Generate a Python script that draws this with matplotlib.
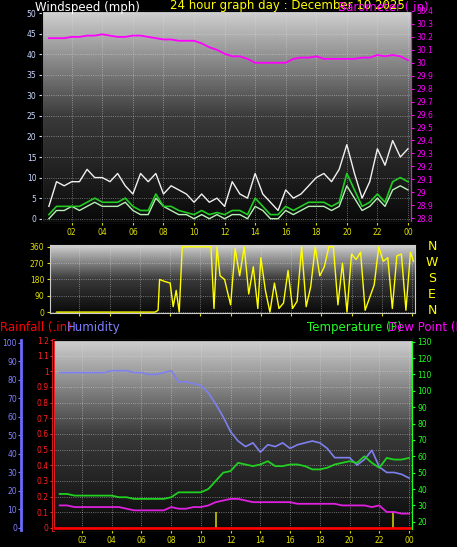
import numpy as np
import matplotlib
matplotlib.use("Agg")
import matplotlib.pyplot as plt
from matplotlib.colors import LinearSegmentedColormap

# ---------------- data ----------------
hours = [0.5*i for i in range(1, 49)]
gust = [3, 9, 8, 9, 9, 12, 10, 10, 9, 11, 8, 6, 11, 9, 11, 6, 8, 7, 6, 4, 6, 4, 5, 3,
        9, 6, 5, 11, 6, 4, 2, 7, 5, 6, 8, 10, 11, 9, 12, 18, 11, 5, 9, 17, 13, 19, 15, 17]
wind_avg = [1, 3, 3, 3, 3, 4, 5, 4, 4, 4, 5, 3, 2, 2, 6, 3, 3, 2, 1.5, 1, 2, 1, 1.5, 1,
            2, 2, 1, 5, 3, 1, 1, 3, 2, 3, 4, 4, 4, 3, 4, 11, 7, 3, 4, 6, 4, 9, 10, 9]
wind_speed = [0, 2, 2, 3, 2, 3, 4, 3, 3, 3, 4, 2, 1, 1, 5, 3, 2, 1, 1, 0, 1, 0, 1, 0,
              1, 1, 0, 3, 2, 0, 0, 2, 1, 2, 3, 3, 3, 2, 3, 8, 5, 2, 3, 5, 3, 7, 8, 7]
pressure = [30.19, 30.19, 30.19, 30.20, 30.20, 30.21, 30.21, 30.22, 30.21, 30.20, 30.20, 30.21,
            30.21, 30.20, 30.19, 30.18, 30.18, 30.17, 30.17, 30.17, 30.15, 30.12, 30.10, 30.07,
            30.05, 30.05, 30.03, 30.00, 30.00, 30.00, 30.00, 30.00, 30.03, 30.04, 30.04, 30.05,
            30.03, 30.03, 30.03, 30.03, 30.03, 30.04, 30.04, 30.06, 30.05, 30.06, 30.05, 30.02]
dir_hours = [0.5, 7.0, 7.2, 7.3, 7.6, 8.0, 8.2, 8.4, 8.6, 8.8, 10.7, 10.9, 11.1, 11.3, 11.6,
             12.0, 12.3, 12.6, 12.9, 13.2, 13.5, 13.8, 14.0, 14.3, 14.6, 14.9, 15.2, 15.5,
             15.8, 16.1, 16.4, 16.7, 17.0, 17.3, 17.6, 17.9, 18.2, 18.5, 18.8, 19.1, 19.4,
             19.7, 20.0, 20.3, 20.6, 20.9, 21.2, 21.5, 21.8, 22.1, 22.4, 22.7, 23.0, 23.3,
             23.6, 23.9, 24.1]
direction = [0, 0, 10, 180, 170, 160, 30, 120, 0, 360, 360, 20, 360, 200, 180,
             40, 350, 200, 360, 100, 250, 20, 300, 120, 0, 160, 20, 50,
             230, 20, 60, 360, 30, 140, 360, 200, 250, 360, 360, 40, 270,
             0, 320, 290, 330, 10, 80, 150, 360, 280, 300, 20, 310, 320,
             10, 330, 280]
humidity = [84, 84, 84, 84, 84, 84, 84, 85, 85, 85, 84, 84, 83, 83, 84, 85, 79, 79, 78, 77,
            73, 67, 60, 52, 47, 44, 46, 41, 45, 44, 46, 43, 45, 46, 47, 46, 43, 38, 38, 38,
            34, 37, 42, 33, 30, 30, 29, 27]
temperature = [37, 37, 36, 36, 36, 36, 36, 36, 35, 35, 34, 34, 34, 34, 34, 35, 38, 38, 38, 38,
               40, 45, 50, 51, 56, 55, 54, 55, 57, 54, 54, 55, 55, 54, 52, 52, 53, 55, 56, 57,
               56, 60, 56, 53, 59, 58, 58, 59]
dewpoint = [30, 30, 29, 29, 29, 29, 29, 29, 29, 28, 27, 27, 27, 27, 27, 29, 28, 28, 29, 29,
            30, 32, 33, 34, 34, 33, 32, 32, 32, 32, 32, 32, 31, 31, 31, 31, 31, 31, 30, 30,
            30, 30, 29, 30, 26, 26, 25, 25]
rain_hours = [11.0, 22.9]
rain_bars = [0.1, 0.1]
xtick_pos = [2, 4, 6, 8, 10, 12, 14, 16, 18, 20, 22, 24]
xtick_lab = ["02", "04", "06", "08", "10", "12", "14", "16", "18", "20", "22", "00"]

W, H = 457, 547
fig = plt.figure(figsize=(W/100, H/100), dpi=100, facecolor="black")
cmap = LinearSegmentedColormap.from_list("g", ["#0a0a0a", "#3a3a3a", "#cfcfcf"])

def mkax(l, t, r, b):
    ax = fig.add_axes([l/W, 1-b/H, (r-l)/W, (b-t)/H])
    ax.set_facecolor("black")
    grad = np.linspace(0, 1, 100).reshape(-1, 1)
    ax.imshow(grad, extent=[0, 1, 0, 1], transform=ax.transAxes, aspect="auto",
              cmap=cmap, origin="lower", zorder=0)
    ax.grid(True, color="#dddddd", linestyle=":", linewidth=0.6, alpha=0.6)
    for s in ax.spines.values():
        s.set_color("#cccccc")
    return ax

XL = (0.05, 24.2)

def style_x(ax, show=True):
    ax.set_xlim(*XL)
    ax.set_xticks(xtick_pos)
    if show:
        ax.set_xticklabels(xtick_lab)
    else:
        ax.set_xticklabels([])
    ax.tick_params(axis="x", colors="#e0e000", labelsize=5.5, length=2, pad=2)

# ---------------- top panel ----------------
ax1 = mkax(42, 11, 411, 222)
style_x(ax1)
ax1.set_ylim(-0.8, 50.5)
ax1.set_yticks(range(0, 51, 5))
ax1.tick_params(axis="y", colors="#c8d8ff", labelsize=5.5, length=2, pad=2)
ax1.plot(hours, gust, color="#f0f0f0", lw=1.0, zorder=3)
ax1.plot(hours, wind_speed, color="#b8f0b8", lw=1.0, zorder=3)
ax1.plot(hours, wind_avg, color="#22cc22", lw=1.2, zorder=4)
ax1b = ax1.twinx()
ax1b.set_ylim(28.77, 30.4)
ax1b.set_yticks(np.round(np.arange(28.8, 30.41, 0.1), 1))
ax1b.set_yticklabels([f"{v:g}" for v in np.round(np.arange(28.8, 30.41, 0.1), 1)])
ax1b.tick_params(axis="y", colors="#ff00ff", labelsize=5.5, length=2, pad=2)
ax1b.spines["right"].set_color("#ff00ff")
ax1b.plot(hours, pressure, color="#ff00ff", lw=1.3, zorder=5)

fig.text(35/W, 1-8/H, "Windspeed (mph)", color="white", fontsize=8.5, va="center")
fig.text(170/W, 1-5/H, "24 hour graph day : December 10 2025", color="#ffff00", fontsize=8.5, va="center")
fig.text(338/W, 1-8/H, "Barometer ( in)", color="#ff00ff", fontsize=8.5, va="center")

# ---------------- middle panel ----------------
ax2 = mkax(50, 245, 415, 313)
style_x(ax2, False)
ax2.set_ylim(-5, 370)
ax2.set_yticks([0, 90, 180, 270, 360])
ax2.tick_params(axis="y", colors="#e0e000", labelsize=5.5, length=2, pad=2)
ax2.plot(dir_hours, direction, color="#ffff00", lw=1.0, zorder=3)
for i, c in enumerate("NWSEN"):
    fig.text(432/W, 1-(247+i*16)/H, c, color="#ffff00", fontsize=9, ha="center", va="center")

# ---------------- bottom panel ----------------
ax3 = mkax(53, 340, 412, 530)
style_x(ax3)
ax3.set_ylim(-0.013, 1.2)
rt = np.round(np.arange(0, 1.21, 0.1), 1)
ax3.set_yticks(rt)
ax3.set_yticklabels([f"{v:g}" for v in rt])
ax3.tick_params(axis="y", colors="#ff2020", labelsize=5.5, length=2, pad=1)
ax3.spines["left"].set_color("#ff2020")
ax3.spines["left"].set_linewidth(2)
ax3.plot([XL[0], XL[1]], [0, 0], color="#ff0000", lw=2, zorder=6)
ax3.vlines(rain_hours, 0, rain_bars, color="#c8c800", lw=1.2, zorder=5)

axh = ax3.twinx()
axh.spines["right"].set_visible(False)
axh.spines["left"].set_visible(True)
axh.spines["left"].set_position(("outward", 23))
axh.spines["left"].set_color("#6a6aff")
axh.spines["left"].set_linewidth(2)
axh.yaxis.set_ticks_position("left")
axh.yaxis.set_label_position("left")
axh.set_ylim(-1.1, 101.6)
axh.set_yticks(range(0, 101, 10))
axh.tick_params(axis="y", colors="#8080ff", labelsize=5.5, length=2, pad=1)
axh.plot(hours, humidity, color="#7f80f0", lw=1.2, zorder=4)

axt = ax3.twinx()
axt.set_ylim(15, 131)
axt.set_yticks(range(20, 131, 10))
axt.tick_params(axis="y", colors="#20ff20", labelsize=5.5, length=2, pad=2)
axt.spines["right"].set_color("#20ff20")
axt.plot(hours, temperature, color="#20d020", lw=1.3, zorder=4)
axt.plot(hours, dewpoint, color="#e020e0", lw=1.3, zorder=4)

fig.text(0/W, 1-328/H, "Rainfall (.in)", color="#ff0000", fontsize=8.5, va="center")
fig.text(67/W, 1-328/H, "Humidity", color="#7f80ff", fontsize=8.5, va="center")
fig.text(307/W, 1-328/H, "Temperature (F)", color="#20ff20", fontsize=8.5, va="center")
fig.text(388/W, 1-328/H, "Dew Point (F)", color="#ff00ff", fontsize=8.5, va="center")

fig.savefig("out.png", dpi=100, facecolor="black")
